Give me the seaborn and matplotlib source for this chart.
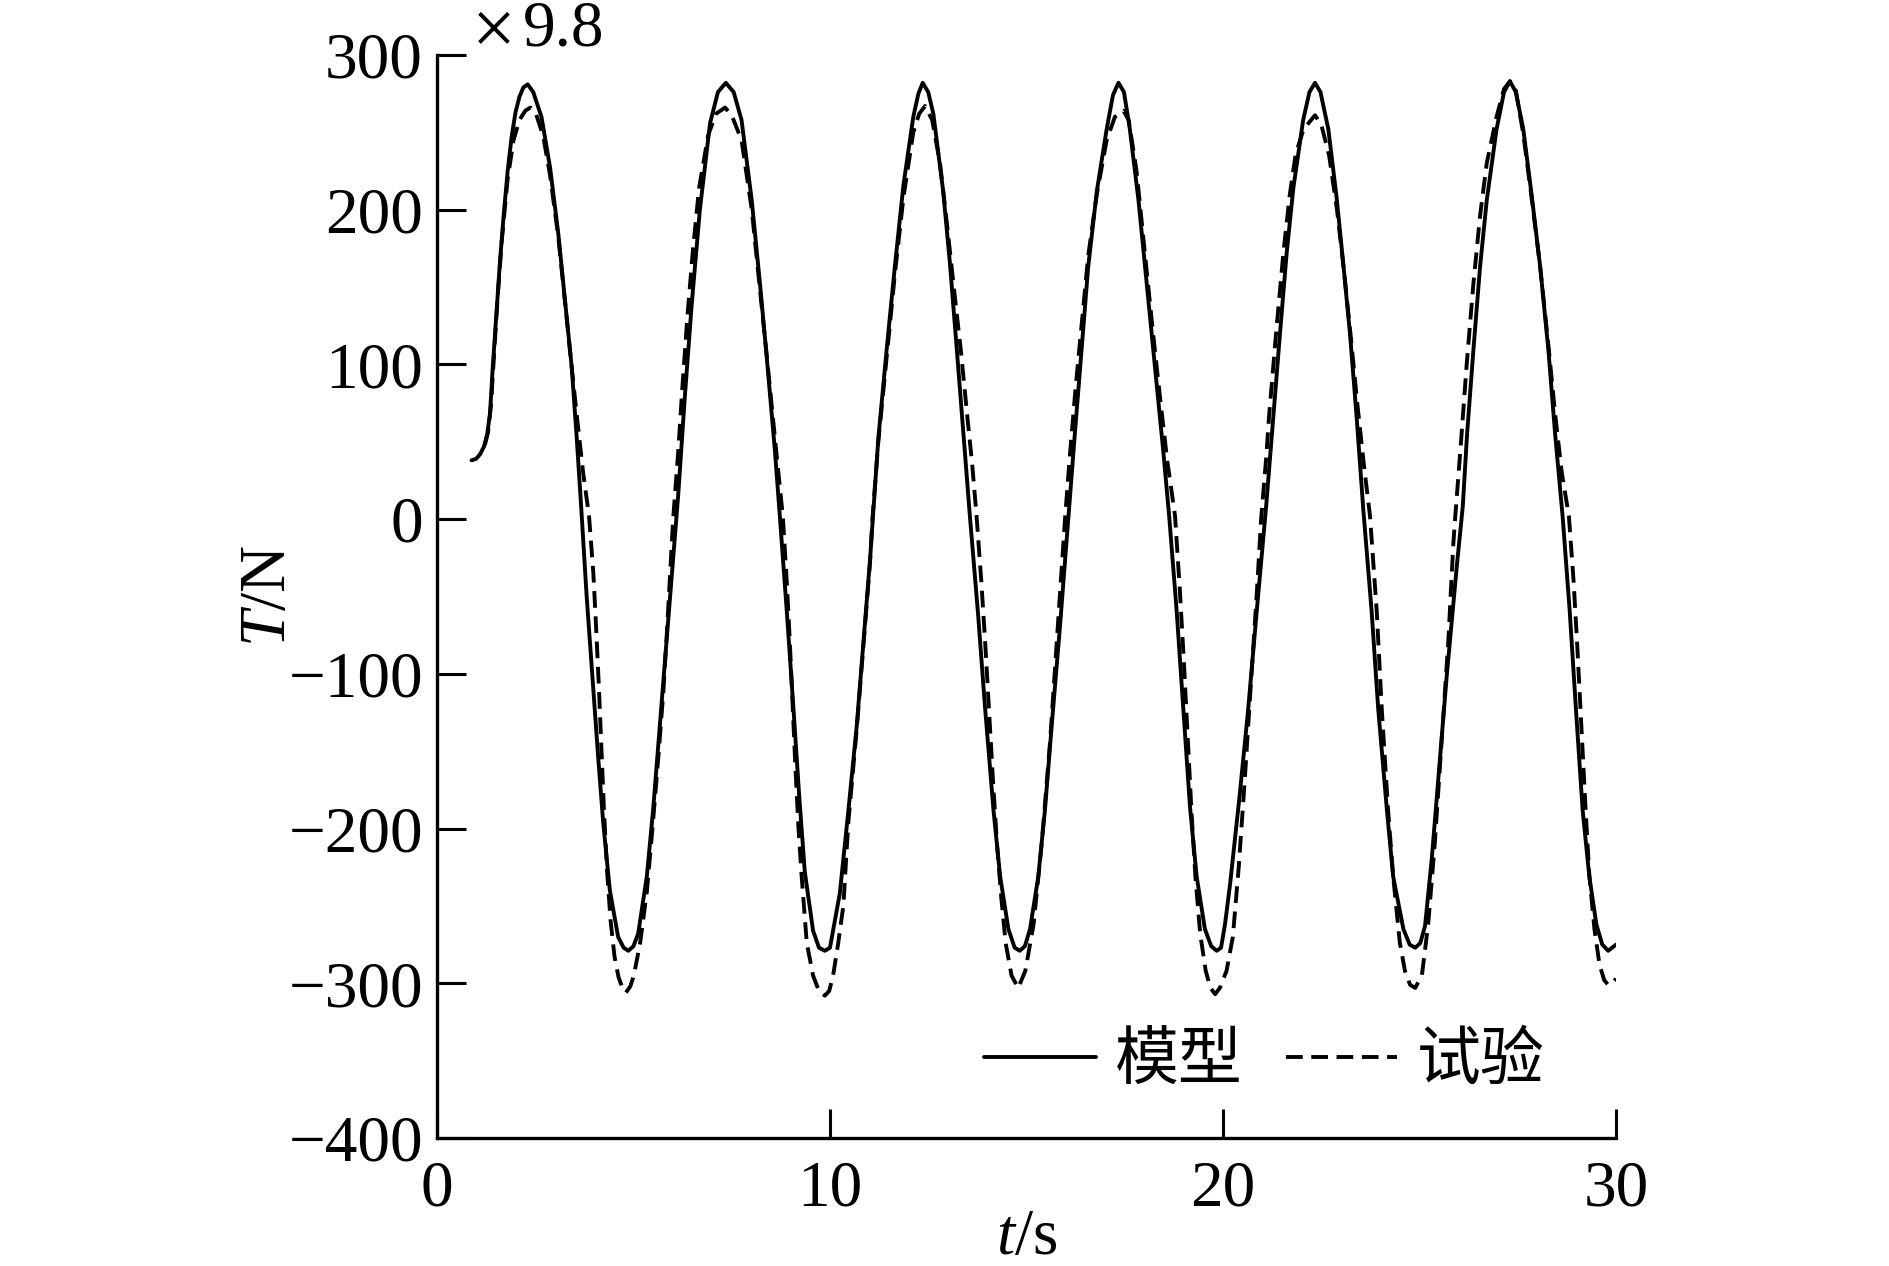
import pandas as pd
import matplotlib
matplotlib.use('Agg')
import matplotlib.pyplot as plt
import seaborn as sns

# model (solid) curve
t_model = [0.88, 1.00, 1.10, 1.20, 1.28, 1.35, 1.42, 1.50, 1.60, 1.70, 1.80, 1.90, 2.00, 2.10, 2.20, 2.31,
           2.45, 2.66, 2.88, 3.09, 3.26, 3.43, 3.55, 3.66, 3.81, 3.98, 4.10, 4.23, 4.40, 4.61, 4.75, 4.87,
           5.00, 5.12, 5.34, 5.50, 5.67, 5.84, 6.01, 6.14, 6.31, 6.48, 6.69, 6.95, 7.15, 7.35,
           7.55, 7.75, 8.01, 8.22, 8.39, 8.60, 8.73, 8.90, 9.07, 9.22, 9.36, 9.57, 9.72, 9.87,
           10.00, 10.25, 10.47, 10.68, 10.85, 11.02, 11.10, 11.23, 11.44, 11.65, 11.87, 12.12, 12.25, 12.36,
           12.50, 12.63, 12.88, 13.05, 13.22, 13.39, 13.56, 13.77, 13.94, 14.16, 14.33, 14.54, 14.70, 14.83,
           14.96, 15.09, 15.30, 15.47, 15.64, 15.85, 16.07, 16.23, 16.40, 16.57, 16.79, 17.04, 17.20, 17.34,
           17.48, 17.63, 17.85, 18.06, 18.27, 18.48, 18.63, 18.82, 18.99, 19.16, 19.33, 19.54, 19.70, 19.84,
           19.95, 20.05, 20.18, 20.43, 20.64, 20.86, 21.10, 21.28, 21.45, 21.62, 21.79, 22.04, 22.20, 22.34,
           22.48, 22.68, 22.89, 23.06, 23.23, 23.40, 23.57, 23.78, 23.95, 24.17, 24.33, 24.59, 24.75, 24.89,
           25.02, 25.14, 25.31, 25.48, 25.69, 25.95, 26.10, 26.21, 26.37, 26.54, 26.71, 26.96, 27.15, 27.30,
           27.45, 27.64, 27.86, 28.07, 28.28, 28.45, 28.64, 28.82, 28.98, 29.15, 29.32, 29.50, 29.65, 29.80, 30.00]
T_model = [38, 39, 42, 47, 55, 68, 98, 128, 165, 197, 225, 247, 263, 273, 279, 281,
           276, 260, 227, 184, 141, 98, 55, 12, -50, -110, -153, -196, -240, -270, -277, -279,
           -276, -268, -231, -188, -134, -80, -26, 16, 80, 138, 200, 256, 276, 282,
           276, 258, 206, 152, 105, 44, 0, -59, -122, -180, -228, -266, -277, -279,
           -277, -242, -188, -134, -80, -26, 4, 52, 109, 163, 216, 260, 275, 282,
           276, 262, 212, 166, 112, 57, 2, -62, -120, -188, -231, -265, -277, -279,
           -276, -265, -231, -188, -134, -70, 2, 55, 109, 163, 212, 252, 274, 282,
           276, 252, 206, 152, 98, 44, 2, -59, -123, -186, -231, -265, -276, -279,
           -277, -262, -236, -177, -123, -59, 9, 66, 120, 172, 214, 258, 276, 282,
           276, 252, 208, 165, 120, 66, 6, -59, -123, -188, -231, -265, -275, -277,
           -274, -263, -220, -167, -102, -30, 8, 55, 109, 163, 206, 252, 276, 283,
           276, 252, 208, 163, 109, 55, 2, -59, -123, -188, -231, -262, -275, -279, -275]

# test (dashed) curve
t_test = [1.22, 1.30, 1.38, 1.45, 1.55, 1.65, 1.80, 1.95, 2.10, 2.25, 2.38,
          2.52, 2.70, 2.88, 3.09, 3.26, 3.43, 3.58, 3.72, 3.87, 3.98, 4.05, 4.12, 4.18, 4.25, 4.33, 4.42, 4.52, 4.62, 4.72, 4.81,
          4.92, 5.01, 5.17, 5.34, 5.49, 5.63, 5.76, 5.86, 5.95, 6.01, 6.14, 6.25, 6.37, 6.51, 6.67, 6.90, 7.10, 7.33,
          7.50, 7.75, 8.01, 8.22, 8.39, 8.55, 8.68, 8.80, 8.90, 8.98, 9.05, 9.12, 9.20, 9.28, 9.41, 9.57, 9.72, 9.87,
          9.98, 10.08, 10.21, 10.34, 10.47, 10.68, 10.85, 11.02, 11.08, 11.23, 11.44, 11.65, 11.87, 12.12, 12.27, 12.42,
          12.60, 12.80, 12.98, 13.15, 13.33, 13.50, 13.62, 13.73, 13.85, 13.95, 14.05, 14.15, 14.25, 14.36, 14.47, 14.62, 14.79,
          14.97, 15.18, 15.39, 15.60, 15.77, 15.98, 16.10, 16.25, 16.40, 16.57, 16.79, 17.04, 17.25, 17.47,
          17.60, 17.80, 18.00, 18.20, 18.40, 18.58, 18.78, 18.90, 19.00, 19.10, 19.20, 19.30, 19.42, 19.56, 19.68, 19.80,
          19.92, 20.09, 20.25, 20.40, 20.55, 20.70, 20.85, 20.97, 21.10, 21.17, 21.35, 21.54, 21.70, 21.85, 22.05, 22.34,
          22.50, 22.70, 22.90, 23.08, 23.25, 23.42, 23.58, 23.74, 23.91, 24.04, 24.20, 24.33, 24.50, 24.63, 24.76, 24.89,
          25.06, 25.22, 25.39, 25.56, 25.73, 25.86, 25.91, 26.05, 26.20, 26.37, 26.54, 26.71, 26.96, 27.15, 27.30,
          27.45, 27.64, 27.86, 28.07, 28.28, 28.45, 28.62, 28.80, 28.92, 29.02, 29.12, 29.22, 29.32, 29.45, 29.58, 29.70, 29.80, 29.90, 30.00]
T_test = [48, 56, 75, 105, 145, 180, 220, 245, 258, 264, 266,
          262, 248, 222, 182, 140, 98, 62, 30, 2, -35, -70, -108, -145, -188, -228, -260, -283, -296, -303, -306,
          -302, -295, -274, -241, -198, -155, -112, -69, -28, 0, 44, 87, 130, 173, 214, 248, 262, 266,
          261, 245, 200, 148, 106, 65, 32, 2, -40, -80, -120, -160, -200, -231, -274, -295, -305, -308,
          -305, -295, -274, -250, -195, -136, -82, -28, 0, 50, 104, 158, 208, 250, 262, 267,
          258, 230, 190, 150, 109, 65, 35, 2, -40, -80, -125, -170, -210, -245, -274, -295, -303,
          -292, -262, -209, -144, -80, 0, 40, 85, 125, 170, 210, 245, 260, 264,
          258, 225, 175, 125, 78, 38, 2, -45, -90, -140, -190, -232, -268, -292, -303, -307,
          -303, -292, -270, -225, -170, -110, -52, 0, 40, 66, 120, 173, 210, 236, 252, 261,
          255, 235, 200, 160, 118, 74, 36, 2, -59, -123, -188, -231, -274, -292, -301, -303,
          -295, -262, -209, -144, -80, -16, 2, 48, 100, 152, 196, 230, 260, 278, 283,
          277, 249, 206, 163, 112, 68, 30, 2, -40, -85, -135, -185, -230, -265, -288, -298, -301, -300, -297]

x_ticks = [0, 10, 20, 30]
y_ticks = [-400, -300, -200, -100, 0, 100, 200, 300]
series_names = ['模型', '试验']

sns.set_style('ticks')
plt.rcParams['font.family'] = ['Liberation Serif', 'Noto Sans CJK SC', 'DejaVu Sans']
plt.rcParams['mathtext.fontset'] = 'custom'
plt.rcParams['mathtext.it'] = 'Liberation Serif:italic'
plt.rcParams['mathtext.rm'] = 'Liberation Serif'
for key in ['text.color', 'axes.labelcolor', 'xtick.color', 'ytick.color', 'axes.edgecolor']:
    plt.rcParams[key] = 'black'

df_model = pd.DataFrame({'t': t_model, 'T': T_model})
df_test = pd.DataFrame({'t': t_test, 'T': T_test})

fig = plt.figure(figsize=(18.89, 12.66), dpi=100)
ax = fig.add_axes([0.2313, 0.1011, 0.6242, 0.8555])

lw = 2.8
sns.lineplot(data=df_model, x='t', y='T', ax=ax, color='black', lw=lw,
             label=series_names[0], estimator=None, sort=False)
sns.lineplot(data=df_test, x='t', y='T', ax=ax, color='black', lw=lw,
             label=series_names[1], estimator=None, sort=False,
             linestyle=(0, (4.3, 2.2)))

ax.set_xlim(0, 30)
ax.set_ylim(-400, 300)
ax.set_xticks(x_ticks)
ax.set_yticks(y_ticks)
sns.despine(ax=ax)
for s in ['left', 'bottom']:
    ax.spines[s].set_linewidth(2.4)
    ax.spines[s].set_color('black')
ax.tick_params(direction='in', length=21, width=2.2, labelsize=47, colors='black')
ax.tick_params(axis='y', pad=10)
ax.tick_params(axis='x', pad=16)

ax.set_xlabel(r'$t$/s', fontsize=47, labelpad=-8)
ax.set_ylabel(r'$T$/N', fontsize=47)
ax.yaxis.set_label_coords(-0.117, 0.5)

# scale factor note above the y axis
fig.text(472 / 1889, 1 - 53 / 1266, '×', fontsize=56, va='baseline', ha='left')
fig.text(523 / 1889, 1 - 46 / 1266, '9.8', fontsize=47, va='baseline', ha='left')

handles, labels = ax.get_legend_handles_labels()
ax.legend(handles, labels, loc='center left', bbox_to_anchor=(0.464, 0.071),
          ncol=2, frameon=False, borderpad=0, borderaxespad=0,
          handlelength=1.75, handletextpad=0.3, columnspacing=0.67,
          prop={'family': ['Noto Sans CJK SC'], 'size': 46})

fig.savefig('out.png', dpi=100)
